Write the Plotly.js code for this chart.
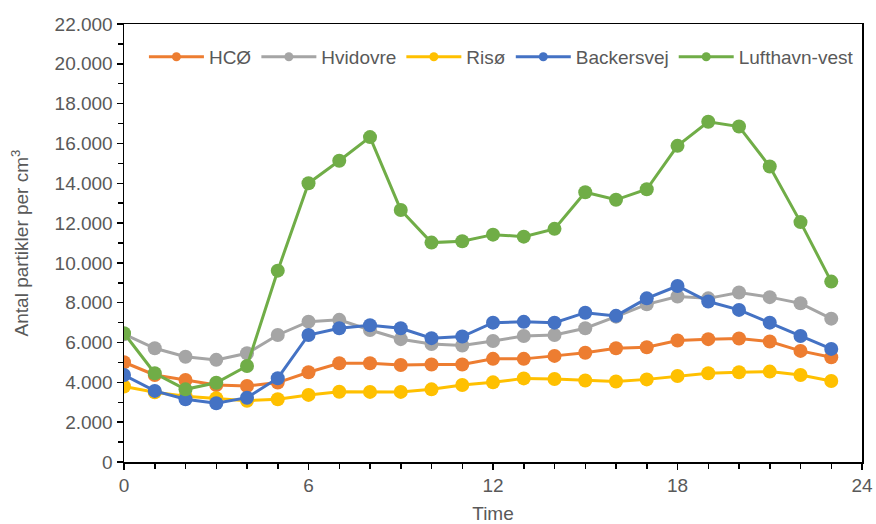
<!DOCTYPE html>
<html>
<head>
<meta charset="utf-8">
<script src="https://cdn.plot.ly/plotly-3.0.1.min.js"></script>
<style>html,body{margin:0;padding:0;background:#fff;}#chart{width:876px;height:524px;}</style>
</head>
<body>
<div id="chart"></div>
<script>
const hours = [0,1,2,3,4,5,6,7,8,9,10,11,12,13,14,15,16,17,18,19,20,21,22,23];
const seriesNames = ["HCØ","Hvidovre","Risø","Backersvej","Lufthavn-vest"];
const hco = [5010,4370,4120,3870,3820,3990,4510,4960,4960,4870,4900,4900,5180,5180,5330,5490,5710,5760,6100,6170,6200,6050,5580,5260];
const hvidovre = [6420,5710,5290,5130,5460,6380,7050,7140,6630,6170,5930,5850,6080,6330,6380,6720,7300,7920,8310,8220,8510,8280,7970,7200];
const riso = [3790,3500,3300,3200,3080,3150,3370,3530,3520,3520,3650,3870,4000,4200,4170,4090,4040,4150,4320,4460,4510,4540,4370,4070];
const backersvej = [4370,3570,3150,2950,3230,4210,6380,6720,6870,6720,6220,6300,7000,7040,7000,7500,7340,8220,8840,8060,7640,7000,6330,5680];
const lufthavn = [6470,4460,3650,3980,4820,9610,14000,15130,16320,12660,11020,11090,11420,11320,11710,13550,13170,13700,15880,17090,16850,14840,12050,9060];
const colors = ["#ED7D31","#A5A5A5","#FFC000","#4472C4","#70AD47"];
const xTicks = [0,6,12,18,24];

const allSeries = [hco, hvidovre, riso, backersvej, lufthavn];
const traces = allSeries.map((ys, i) => ({
  x: hours, y: ys, name: seriesNames[i], type: 'scatter', mode: 'lines+markers',
  showlegend: false,
  line: {color: colors[i], width: 3},
  marker: {color: colors[i], size: 14}
}));
// legend-only entries with smaller markers (no data drawn)
const legendTraces = seriesNames.map((n, i) => ({
  x: [null], y: [null], name: n, type: 'scatter', mode: 'lines+markers',
  line: {color: colors[i], width: 3},
  marker: {color: colors[i], size: 9}
}));

const font = {family: 'Liberation Sans, Arial, sans-serif', size: 19, color: '#595959'};
const layout = {
  width: 876, height: 524,
  margin: {l: 124, r: 14, t: 24, b: 62},
  paper_bgcolor: '#fff', plot_bgcolor: '#fff',
  separators: ',.',
  font: font,
  showlegend: true,
  legend: {orientation: 'h', x: 0.027, xanchor: 'left', y: 0.925, yanchor: 'middle',
           font: font, bgcolor: 'rgba(0,0,0,0)', itemwidth: 55, tracegroupgap: 0},
  xaxis: {
    range: [0, 24], tickvals: xTicks, ticktext: xTicks.map(String),
    showgrid: false, zeroline: false,
    showline: true, linecolor: '#000', linewidth: 1.5, mirror: true,
    ticks: 'outside', ticklen: 6, tickcolor: '#000', tickwidth: 1.5,
    minor: {dtick: 1, ticks: 'outside', ticklen: 5, tickcolor: '#000', tickwidth: 1.5},
    tickfont: font,
    title: {text: 'Time', font: font, standoff: 18}
  },
  yaxis: {
    range: [0, 22000], dtick: 2000, tickformat: ',d',
    showgrid: false, zeroline: false,
    showline: true, linecolor: '#000', linewidth: 1.5, mirror: true,
    ticks: 'outside', ticklen: 6, tickcolor: '#000', tickwidth: 1.5,
    minor: {dtick: 1000, ticks: 'outside', ticklen: 5, tickcolor: '#000', tickwidth: 1.5},
    tickfont: font,
    title: {text: 'Antal partikler per cm<sup>3</sup>', font: font, standoff: 21}
  }
};
Plotly.newPlot('chart', traces.concat(legendTraces), layout, {displayModeBar: false, staticPlot: true});
</script>
</body>
</html>
